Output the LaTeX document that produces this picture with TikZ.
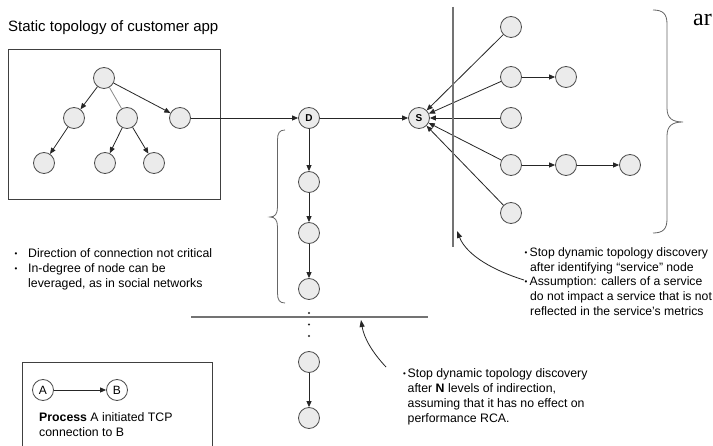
\documentclass[tikz,border=0pt]{standalone}
\usepackage{fontspec}
\setmainfont{Liberation Sans}
\newfontfamily\serifface{Liberation Serif}
\usetikzlibrary{arrows.meta}

\newcommand\smallbullet{\raisebox{0.2ex}{\fontsize{8}{8}\selectfont\textbullet}}

\begin{document}
\begin{tikzpicture}[x=1pt,y=-1pt,
  proc/.style={circle,draw=black!70,fill=black!8,line width=0.8pt,
    minimum size=21pt,inner sep=0pt},
  keyproc/.style={proc,font=\fontsize{10}{12}\selectfont\bfseries},
  legproc/.style={proc,fill=white,font=\fontsize{12}{14}\selectfont},
  conn/.style={-{Triangle[length=6pt,width=5pt]},line width=0.8pt,black!85},
  plainlink/.style={line width=0.8pt,black!45},
  pointer/.style={-{Triangle[length=7pt,width=5pt]},line width=0.8pt,black!85},
  cut/.style={line width=2.6pt,black!55},
  brc/.style={line width=0.8pt,black!60},
  frame/.style={line width=0.9pt,black!75},
  txt/.style={anchor=base west,inner sep=0pt,font=\fontsize{12.3}{14.8}\selectfont},
  widetxt/.style={txt,font=\fontsize{12.2}{14.8}\selectfont},
  bul/.style={anchor=base,inner sep=0pt,font=\fontsize{12.3}{14.8}\selectfont},
  dotmark/.style={circle,fill=black!85,inner sep=0pt,minimum size=2.4pt},
  ]
\clip (0,0) rectangle (713,446);
\fill[white] (0,0) rectangle (713,446);

% ---- static topology of the customer app ----
\node[anchor=base west,inner sep=0pt,font=\fontsize{15}{18}\selectfont]
  (title) at (8,31.5) {Static topology of customer app};
\draw[frame] (8,49) rectangle (220,199);

\node[proc] (root) at (104,78) {};
\node[proc] (t1) at (74,118) {};
\node[proc] (t2) at (127,118) {};
\node[proc] (t3) at (180,118) {};
\node[proc] (l1) at (44,163) {};
\node[proc] (l2) at (105,163) {};
\node[proc] (l3) at (154,163) {};

\draw[conn] (root) -- (t1);
\draw[plainlink] (root) -- (t2);
\draw[conn] (root) -- (t3);
\draw[conn] (t1) -- (l1);
\draw[conn] (t2) -- (l2);
\draw[conn] (t2) -- (l3);

% ---- discovered processes ----
\node[keyproc] (D) at (309,118) {D};
\node[keyproc] (S) at (419,118) {S};
\draw[conn] (t3) -- (D);
\draw[conn] (D) -- (S);

% chain below D
\node[proc] (c1) at (309,182) {};
\node[proc] (c2) at (309,233) {};
\node[proc] (c3) at (309,289) {};
\node[dotmark] (d1) at (309,313) {};
\node[dotmark] (d2) at (309,324.5) {};
\node[dotmark] (d3) at (309,336) {};
\node[proc] (c4) at (309,362) {};
\node[proc] (c5) at (309,418) {};
\draw[conn] (D) -- (c1);
\draw[conn] (c1) -- (c2);
\draw[conn] (c2) -- (c3);
\draw[conn] (c4) -- (c5);

% callers of S
\node[proc] (s1) at (511,27) {};
\node[proc] (s2) at (511,77) {};
\node[proc] (s3) at (511,118) {};
\node[proc] (s4) at (511,165) {};
\node[proc] (s5) at (511,213) {};
\node[proc] (u2) at (566,77) {};
\node[proc] (u4) at (566,165) {};
\node[proc] (w4) at (630,165) {};
\foreach \n in {s1,s2,s3,s4,s5} \draw[conn] (\n) -- (S);
\draw[conn] (s2) -- (u2);
\draw[conn] (s4) -- (u4);
\draw[conn] (u4) -- (w4);

% ---- cut-off lines ----
\coordinate (vtop) at (453,7);
\coordinate (vbot) at (453,247);
\coordinate (hleft) at (191,317);
\coordinate (hright) at (428,317);
\draw[cut] (vtop) -- (vbot);
\draw[cut] (hleft) -- (hright);

% ---- braces ----
\draw[brc] (285,130) .. controls (279.5,130) and (277.5,133) .. (277.5,140)
  -- (277.5,207) .. controls (277.5,214) and (275,217) .. (270,217)
  .. controls (275,217) and (277.5,220) .. (277.5,227)
  -- (277.5,293) .. controls (277.5,300) and (279.5,303) .. (285,303);
\draw[brc] (653,10) .. controls (663,10) and (667,14) .. (667,24)
  -- (667,108) .. controls (667,118) and (672,122) .. (683,122)
  .. controls (672,122) and (667,126) .. (667,136)
  -- (667,219) .. controls (667,229) and (663,233) .. (653,233);
\node[anchor=base west,inner sep=0pt,font=\serifface\fontsize{24}{28}\selectfont]
  (ar) at (693,26) {ar};

% ---- notes ----
\node[bul] (lb1) at (16,258) {\smallbullet};
\node[txt] (la1) at (28,258) {Direction of connection not critical};
\node[bul] (lb2) at (16,273) {\smallbullet};
\node[txt] (la2) at (28,273) {In-degree of node can be};
\node[txt] (la3) at (28,288) {leveraged, as in social networks};

\node[bul] (rb1) at (526,257) {\smallbullet};
\node[widetxt] (ra1) at (529.5,257) {Stop dynamic topology discovery};
\node[widetxt] (ra2) at (530,271.5) {after identifying “service” node};
\node[bul] (rb2) at (526,286) {\smallbullet};
\node[widetxt] (ra3) at (529.5,286) {Assumption: callers of a service};
\node[widetxt] (ra4) at (530,301) {do not impact a service that is not};
\node[widetxt] (ra5) at (530,316) {reflected in the service’s metrics};

\node[bul] (bb1) at (404.5,378) {\smallbullet};
\node[txt] (ba1) at (407.5,378) {Stop dynamic topology discovery};
\node[txt] (ba2) at (407.5,393) {after \textbf{N} levels of indirection,};
\node[txt] (ba3) at (407.5,408) {assuming that it has no effect on};
\node[txt] (ba4) at (407.5,423) {performance RCA.};

% pointers from notes to the cut-off lines
\coordinate (vhit) at (457,231);
\coordinate (hhit) at (361,320);
\coordinate (rstart) at (524,280);
\coordinate (bstart) at (386,367);
\draw[pointer] (rstart) .. controls (495,271) and (467,256) .. (vhit);
\draw[pointer] (bstart) .. controls (372,352) and (364,338) .. (hhit);

% ---- legend ----
\draw[frame] (22,362) rectangle (212,460);
\node[legproc] (A) at (43,390) {A};
\node[legproc] (B) at (117,390) {B};
\draw[conn] (A) -- (B);
\node[txt] (lg1) at (39,422) {\textbf{Process} A initiated TCP};
\node[txt] (lg2) at (39,437) {connection to B};
\end{tikzpicture}
\end{document}
